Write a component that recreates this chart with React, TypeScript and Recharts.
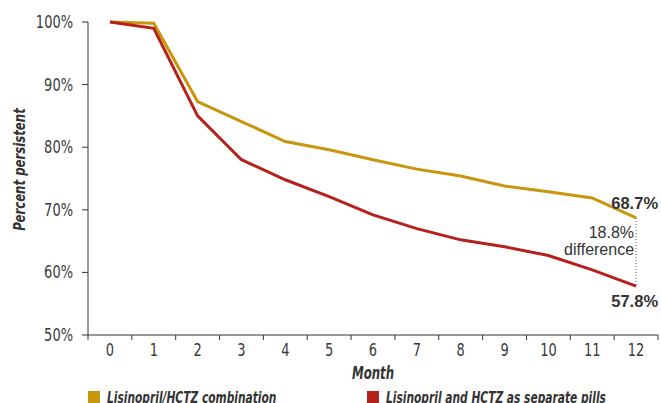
import { LineChart, Line, XAxis, YAxis, ReferenceLine, ReferenceDot, Label } from "recharts"

const months = [0, 1, 2, 3, 4, 5, 6, 7, 8, 9, 10, 11, 12]
const combination = [100, 99.8, 87.3, 84.1, 80.9, 79.6, 78.0, 76.5, 75.4, 73.8, 72.9, 71.9, 68.7]
const separatePills = [100, 99.0, 85.0, 78.0, 74.8, 72.1, 69.2, 67.0, 65.2, 64.1, 62.7, 60.4, 57.8]
const percentTicks = [50, 60, 70, 80, 90, 100]
const seriesNames = ["Lisinopril/HCTZ combination", "Lisinopril and HCTZ as separate pills"]
const endLabels = ["68.7%", "57.8%"]
const differenceText = ["18.8%", "difference"]

const GOLD = "#C8960C"
const RED = "#B5211B"
const INK = "#333"
const NARROW = "'DejaVu Sans Condensed', 'DejaVu Sans', sans-serif"
const SANS = "'Liberation Sans', Arial, sans-serif"

const WIDTH = 661
const HEIGHT = 403
const AXIS_W = 88
const RIGHT = 3
const BAND = (WIDTH - AXIS_W - RIGHT) / months.length
const last = months.length - 1

const data = months.map((m, i) => ({
  month: m,
  combination: combination[i],
  separate: separatePills[i],
}))

// the original type is a very narrow gothic, so squeeze the condensed face a bit more
function Squeezed({ x, y, sx, rotate = 0, children, ...rest }: any) {
  return (
    <text transform={`translate(${x} ${y}) rotate(${rotate}) scale(${sx} 1)`} fill={INK} {...rest}>
      {children}
    </text>
  )
}

function MonthTick({ x, y, payload, index }: any) {
  const half = BAND / 2
  return (
    <g>
      <line x1={x - half} x2={x - half} y1={y} y2={y + 5} stroke={INK} />
      {index === last && <line x1={x + half} x2={x + half} y1={y} y2={y + 5} stroke={INK} />}
      <Squeezed x={x} y={y + 21} sx={0.85} textAnchor="middle" fontFamily={NARROW} fontSize={17} fill="#3a3a3a">
        {payload.value}
      </Squeezed>
    </g>
  )
}

function PercentTick({ x, y, payload }: any) {
  return (
    <Squeezed x={x} y={y + 6} sx={0.85} textAnchor="end" fontFamily={NARROW} fontSize={17} fill="#3a3a3a">
      {`${payload.value}%`}
    </Squeezed>
  )
}

const textAt = (text: string, dx: number, dy: number, bold: boolean) => ({ viewBox }: any) => (
  <text
    x={viewBox.x + dx}
    y={viewBox.y + dy}
    textAnchor="end"
    fill={INK}
    fontFamily={SANS}
    fontSize={bold ? 16.5 : 16}
    fontWeight={bold ? 700 : 400}
  >
    {text}
  </text>
)

export default function App() {
  return (
    <div style={{ position: "absolute", left: 0, top: 0, width: WIDTH, height: HEIGHT, overflow: "hidden" }}>
      <LineChart width={WIDTH} height={HEIGHT} data={data} margin={{ top: 22, right: RIGHT, left: 0, bottom: 0 }}>
        <XAxis
          dataKey="month"
          type="number"
          domain={[-0.5, 12.5]}
          ticks={months}
          interval={0}
          height={68}
          tickSize={0}
          tickMargin={0}
          tick={<MonthTick />}
          stroke={INK}
        >
          <Label
            content={({ viewBox }: any) => (
              <Squeezed
                x={viewBox.x + viewBox.width / 2}
                y={viewBox.y + 44}
                sx={0.77}
                textAnchor="middle"
                fontFamily={NARROW}
                fontSize={17}
                fontWeight={700}
                fontStyle="italic"
              >
                Month
              </Squeezed>
            )}
          />
        </XAxis>
        <YAxis
          type="number"
          domain={[50, 100]}
          ticks={percentTicks}
          width={AXIS_W}
          tickSize={6}
          tickMargin={9}
          tick={<PercentTick />}
          stroke={INK}
        >
          <Label
            content={({ viewBox }: any) => (
              <Squeezed
                x={19}
                y={viewBox.y + viewBox.height / 2 - 9}
                rotate={-90}
                sx={0.79}
                textAnchor="middle"
                dominantBaseline="central"
                fontFamily={NARROW}
                fontSize={16.5}
                fontWeight={700}
                fontStyle="italic"
              >
                Percent persistent
              </Squeezed>
            )}
          />
        </YAxis>
        <Line
          type="linear"
          dataKey="combination"
          name={seriesNames[0]}
          stroke={GOLD}
          strokeWidth={3}
          dot={false}
          isAnimationActive={false}
        />
        <Line
          type="linear"
          dataKey="separate"
          name={seriesNames[1]}
          stroke={RED}
          strokeWidth={3}
          dot={false}
          isAnimationActive={false}
        />
        <ReferenceLine
          segment={[
            { x: months[last], y: combination[last] },
            { x: months[last], y: separatePills[last] },
          ]}
          stroke="#555"
          strokeWidth={1}
          strokeDasharray="1 2"
        />
        <ReferenceDot x={months[last]} y={combination[last]} r={0} fill="none" stroke="none">
          <Label content={textAt(endLabels[0], 22, -9, true)} />
        </ReferenceDot>
        <ReferenceDot x={months[last]} y={separatePills[last]} r={0} fill="none" stroke="none">
          <Label content={textAt(endLabels[1], 22, 21, true)} />
        </ReferenceDot>
        <ReferenceDot x={months[last]} y={combination[last]} r={0} fill="none" stroke="none">
          <Label content={textAt(differenceText[0], -2, 20, false)} />
        </ReferenceDot>
        <ReferenceDot x={months[last]} y={combination[last]} r={0} fill="none" stroke="none">
          <Label content={textAt(differenceText[1], -2, 37, false)} />
        </ReferenceDot>
      </LineChart>
      <div
        style={{
          position: "absolute",
          top: 391,
          left: AXIS_W,
          display: "flex",
          fontFamily: NARROW,
          fontSize: 15,
          fontWeight: 700,
          fontStyle: "italic",
          color: INK,
        }}
      >
        {seriesNames.map((name, i) => (
          <div key={name} style={{ display: "flex", alignItems: "flex-start", width: i === 0 ? 279 : 280 }}>
            <span style={{ flex: "none", width: 12, height: 12, background: i === 0 ? GOLD : RED, marginRight: 7 }} />
            <span
              style={{
                display: "inline-block",
                whiteSpace: "nowrap",
                lineHeight: "15px",
                marginTop: 0,
                transform: "scaleX(0.79)",
                transformOrigin: "left",
              }}
            >
              {name}
            </span>
          </div>
        ))}
      </div>
    </div>
  )
}
